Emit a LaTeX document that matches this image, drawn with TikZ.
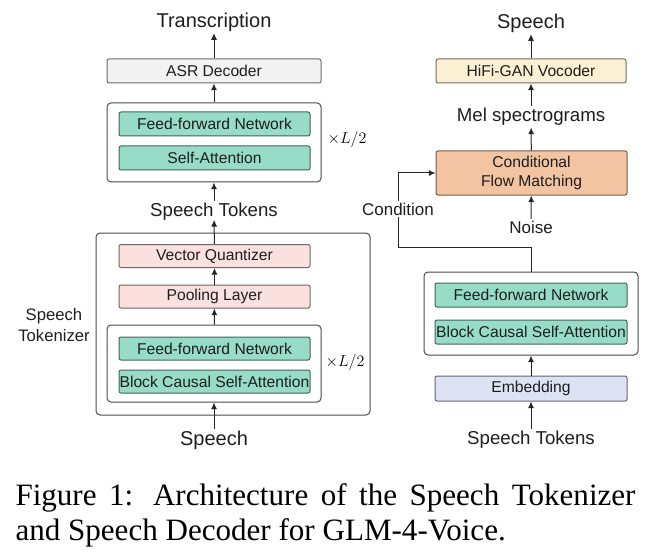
\documentclass[tikz,border=0pt]{standalone}
\usepackage{fontspec}
\setmainfont{Liberation Serif}
\setsansfont{Liberation Sans}
\usetikzlibrary{arrows.meta}

\definecolor{ffnfill}{RGB}{151,220,199}
\definecolor{ffnedge}{RGB}{50,85,75}
\definecolor{vqfill}{RGB}{251,224,224}
\definecolor{asrfill}{RGB}{242,242,242}
\definecolor{hififill}{RGB}{252,240,210}
\definecolor{cfmfill}{RGB}{242,196,162}
\definecolor{cfmedge}{RGB}{120,90,70}
\definecolor{embfill}{RGB}{221,227,245}
\definecolor{txtcol}{RGB}{30,30,30}

\tikzset{every picture/.style={line width=0.75pt}}
\tikzset{
  blk/.style={draw=#1!45!black, rounded corners=1.5pt, inner sep=0pt, minimum width=143.25pt, minimum height=18pt,
    text=txtcol, font=\sffamily\fontsize{11.75}{14.25}\selectfont, align=center},
  grp/.style={draw=black!70, rounded corners=3pt, inner sep=0pt, fill=white},
  lbl/.style={text=txtcol, font=\sffamily\fontsize{15}{18}\selectfont, inner sep=1pt},
  arr/.style={-{Latex[length=5pt,width=4.5pt]}, black!85}
}

\begin{document}
\begin{tikzpicture}[x=0.75pt,y=0.75pt,yscale=-1,xscale=1]
%set diagram at 660 x 556
\path[use as bounding box] (0,0) rectangle (660,556);

% Speech tokenizer and ASR (left)
\node[grp, minimum width=205.5pt, minimum height=136.5pt] (tokz) at (233,324) {};
\node[grp, minimum width=160.5pt, minimum height=57.75pt] (encB) at (214,363.5) {};
\node[grp, minimum width=160.5pt, minimum height=59.25pt] (encA) at (214,142.5) {};

\node[blk=asrfill, fill=asrfill, minimum width=160.5pt] (asr) at (214,71) {ASR Decoder};
\node[blk=ffnfill, fill=ffnfill] (ffnA) at (214.5,124) {Feed-forward Network};
\node[blk=ffnfill, fill=ffnfill] (saA) at (214.5,158) {Self-Attention};
\node[blk=vqfill, fill=vqfill, minimum height=17.25pt] (vq) at (214.5,256) {Vector Quantizer};
\node[blk=vqfill, fill=vqfill, minimum height=17.25pt] (pool) at (214.5,296.5) {Pooling Layer};
\node[blk=ffnfill, fill=ffnfill, minimum height=17.25pt] (ffnB) at (214.5,348.5) {Feed-forward Network};
\node[blk=ffnfill, fill=ffnfill, minimum height=17.25pt] (bcsaB) at (214.5,381.5) {Block Causal Self-Attention};

\node[lbl] (trans) at (214,22) {Transcription};
\node[lbl, font=\sffamily\fontsize{14}{17}\selectfont] (tokA) at (214,212) {Speech Tokens};
\node[lbl] (speechA) at (214,440) {Speech};
\node[lbl, font=\sffamily\fontsize{12.5}{15.5}\selectfont, align=center] (tokzlbl) at (54,325) {Speech\\Tokenizer};
\node[inner sep=0pt, font=\fontsize{11.5}{14}\selectfont] (mulA) at (347,140) {$\times L/2$};
\node[inner sep=0pt, font=\fontsize{11.5}{14}\selectfont] (mulB) at (345,362) {$\times L/2$};

\draw[arr] (asr) -- (trans);
\draw[arr] (encA) -- (asr);
\draw[arr] (tokA) -- (encA);
\draw[arr, shorten >=-2pt] (vq) -- (tokA);
\draw[arr] (pool) -- (vq);
\draw[arr] (encB) -- (pool);
\draw[arr] (speechA) -- (encB);

% Speech decoder (right)
\node[grp, minimum width=160.5pt, minimum height=62.25pt] (dec) at (531,313.5) {};
\node[blk=hififill, fill=hififill, minimum width=142.5pt] (hifi) at (531,71) {HiFi-GAN Vocoder};
\node[blk=cfmfill, draw=cfmedge, fill=cfmfill, minimum width=143.25pt, minimum height=33pt] (cfm) at (531.5,173) {Conditional\\Flow Matching};
\node[blk=ffnfill, fill=ffnfill, minimum width=144pt] (ffnC) at (531,295) {Feed-forward Network};
\node[blk=ffnfill, fill=ffnfill, minimum width=144pt] (bcsaC) at (531,332) {Block Causal Self-Attention};
\node[blk=embfill, fill=embfill, minimum width=144pt, minimum height=18.75pt] (emb) at (531,388.5) {Embedding};

\node[lbl] (speechB) at (531,23) {Speech};
\node[lbl, font=\sffamily\fontsize{14}{17}\selectfont] (mel) at (531,117) {Mel spectrograms};
\node[lbl, font=\sffamily\fontsize{12.75}{15}\selectfont] (cond) at (398,209) {Condition};
\node[lbl, font=\sffamily\fontsize{12.75}{15}\selectfont] (noise) at (531,227) {Noise};
\node[lbl, font=\sffamily\fontsize{14}{17}\selectfont] (tokB) at (531,440) {Speech Tokens};

\draw[arr] (hifi) -- (speechB);
\draw[arr] (mel) -- (hifi);
\draw[arr] (cfm) -- (mel);
\draw[arr] (noise) -- (cfm);
\draw[black!85] (dec.north) -- ++(0,-24) -| (cond.south);
\draw[arr] (cond.north) |- (cfm.west);
\draw[arr] (emb) -- (dec);
\draw[arr] (tokB) -- (emb);

% Caption
\node[anchor=base west, inner sep=0pt, font=\rmfamily\fontsize{23.3}{27}\selectfont] (cap1) at (15,505)
  {\makebox[465pt][s]{Figure 1: Architecture of the Speech Tokenizer}};
\node[anchor=base west, inner sep=0pt, font=\rmfamily\fontsize{23.3}{27}\selectfont] (cap2) at (15,540)
  {and Speech Decoder for GLM-4-Voice.};

\end{tikzpicture}
\end{document}
